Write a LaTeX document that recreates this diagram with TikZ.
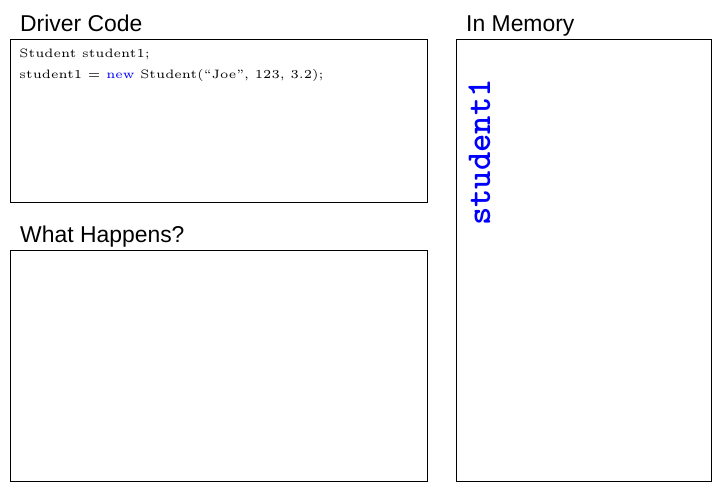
\documentclass[tikz,border=0pt]{standalone}
\usepackage{fontspec}
\usepackage{xcolor}
\usepackage{tikz}
\usetikzlibrary{positioning}
\newfontfamily\titlefont{Liberation Sans}

\begin{document}
\begin{tikzpicture}[x=1bp, y=-1bp,
    panel/.style={draw=black, line width=0.9bp, inner sep=0pt, anchor=north west},
    paneltitle/.style={font=\titlefont\fontsize{23}{28}\selectfont, anchor=base west, inner sep=0pt},
    codeline/.style={font=\fontsize{5}{6}\selectfont, scale=2.45, transform shape, anchor=base west, inner sep=0pt},
    varname/.style={font=\ttfamily\bfseries\fontsize{35}{40}\selectfont, text=blue, inner sep=0pt}]
    \useasboundingbox[fill=white] (0,0) rectangle (720,494);

    % Ba khung
    \node[panel, minimum width=417bp, minimum height=163bp] (driver) at (10,39) {};
    \node[panel, minimum width=417bp, minimum height=231bp] (happens) at (10,250) {};
    \node[panel, minimum width=255bp, minimum height=442bp] (memory) at (456,39) {};

    % Tiêu đề
    \node[paneltitle] (drivertitle) at (20,32) {Driver Code};
    \node[paneltitle] (happenstitle) at (20,243) {What Happens?};
    \node[paneltitle] (memorytitle) at (466,32) {In Memory};

    % Mã nguồn
    \node[codeline] (codeA) at (19,58) {Student student1;};
    \node[codeline] (codeB) at (19,79) {student1 $=$ \textcolor{blue}{new} Student(``Joe'', 123, 3.2);};

    % Biến trong bộ nhớ
    \node[varname, rotate=90, anchor=base west] (var) at (490,226) {student1};
\end{tikzpicture}
\end{document}
